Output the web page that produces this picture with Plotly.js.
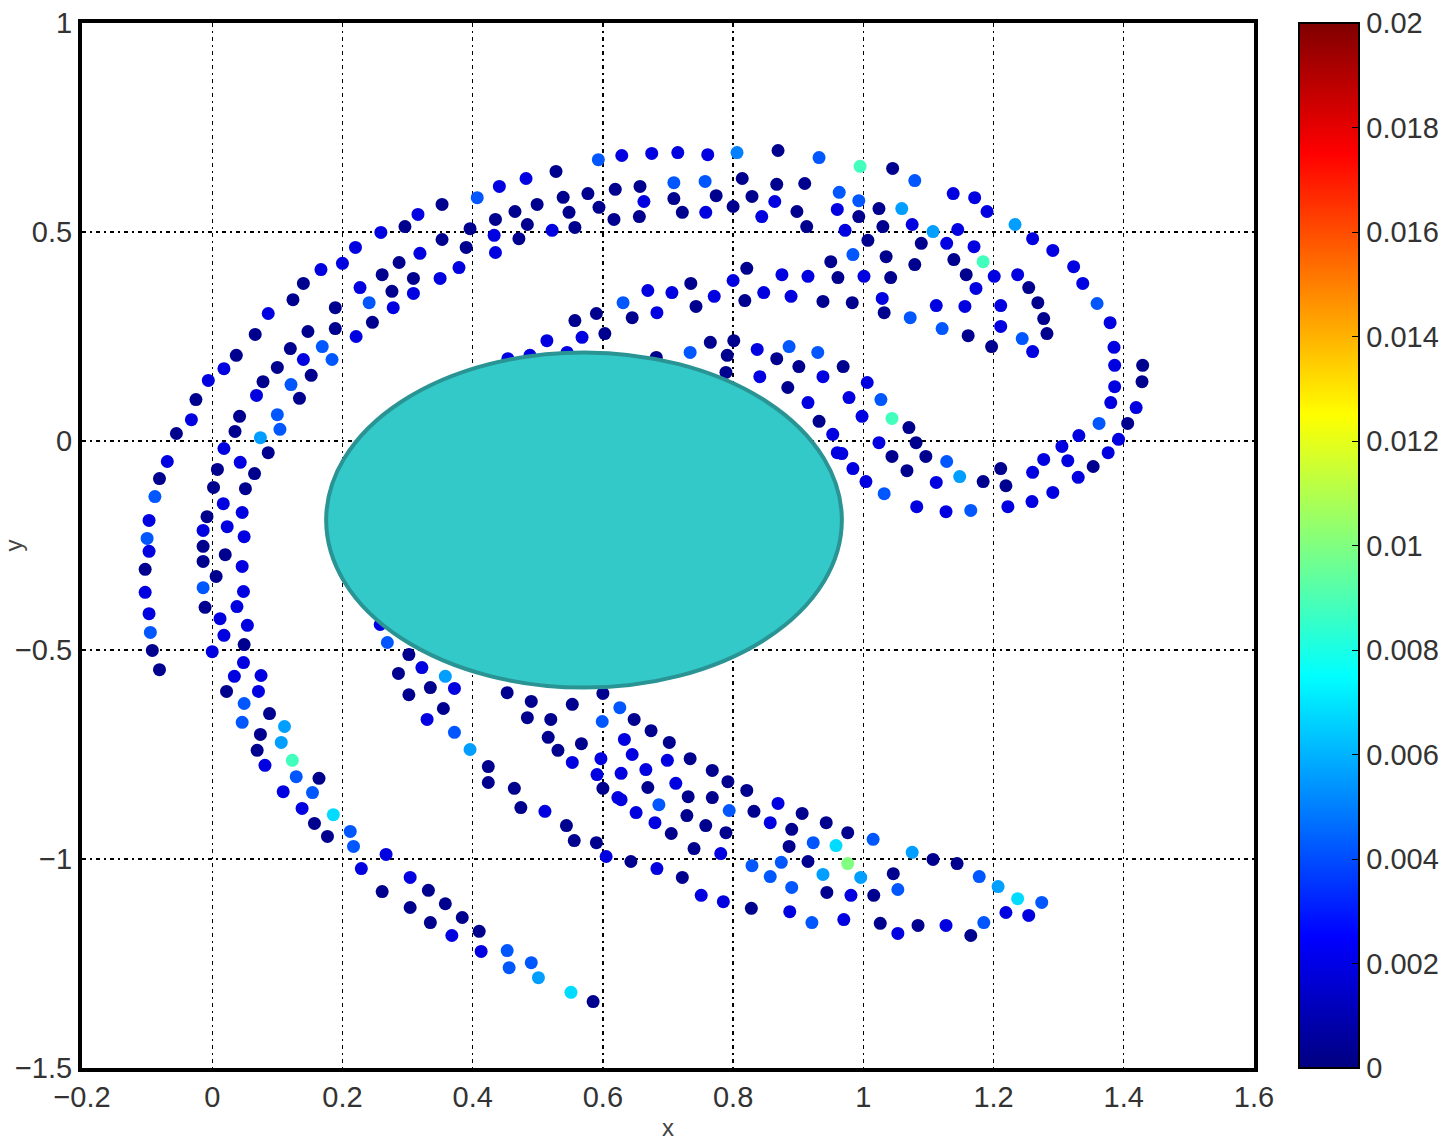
<!DOCTYPE html>
<html>
<head>
<meta charset="utf-8">
<script src="https://cdn.plot.ly/plotly-3.0.1.min.js"></script>
<style>html,body{margin:0;padding:0;background:#fff}#chart{width:1454px;height:1144px}</style>
</head>
<body>
<div id="chart"></div>
<script>
// ---- data ----
const outerTopX = [0.593,0.629,0.675,0.715,0.761,0.806,0.869,0.932,0.995,1.045,1.079,1.138,1.171,1.190,1.233,1.260,1.291,1.323,1.337,1.359,1.379,1.385,1.386,1.386,1.380,1.362,1.331,1.305,1.277,1.260];
const outerTopY = [0.673,0.683,0.688,0.690,0.685,0.690,0.695,0.678,0.657,0.652,0.623,0.592,0.582,0.549,0.518,0.484,0.456,0.417,0.377,0.329,0.283,0.224,0.181,0.130,0.092,0.042,0.013,-0.013,-0.044,-0.075];
const outerTopV = [0.0042,0.0019,0.0019,0.0019,0.0019,0.005,0.0003,0.0042,0.0088,0.0003,0.0042,0.0019,0.0019,0.0019,0.0056,0.0019,0.0019,0.0019,0.0019,0.0042,0.0019,0.0019,0.0019,0.0019,0.0019,0.0042,0.0019,0.0019,0.0019,0.0019];

const outerLeftX = [0.528,0.482,0.441,0.407,0.353,0.316,0.296,0.259,0.220,0.200,0.167,0.140,0.124,0.086,0.066,0.037,0.018,-0.006,-0.025,-0.032,-0.055,-0.069,-0.081,-0.088,-0.097,-0.100,-0.097,-0.103,-0.103,-0.097,-0.095,-0.092,-0.081];
const outerLeftY = [0.645,0.628,0.609,0.582,0.566,0.542,0.513,0.499,0.463,0.425,0.410,0.377,0.338,0.305,0.255,0.205,0.173,0.145,0.099,0.051,0.018,-0.049,-0.090,-0.133,-0.190,-0.233,-0.264,-0.307,-0.362,-0.413,-0.458,-0.501,-0.547];
const outerLeftV = [0.0003,0.0019,0.0019,0.0042,0.0003,0.0019,0.0003,0.0019,0.0019,0.0019,0.0019,0.0003,0.0003,0.0019,0.0003,0.0003,0.0019,0.0019,0.0003,0.0019,0.0003,0.0019,0.0003,0.0042,0.0019,0.0042,0.0019,0.0003,0.0019,0.0019,0.0042,0.0003,0.0003];

const rightInnerX = [1.429,1.428,1.419,1.406,1.392,1.376,1.353,1.330,1.314,1.291,1.259,1.222,1.211,1.219];
const rightInnerY = [0.181,0.142,0.080,0.042,0.004,-0.028,-0.061,-0.087,-0.047,-0.123,-0.145,-0.157,-0.066,-0.107];
const rightInnerV = [0.0003,0.0003,0.0019,0.0003,0.0019,0.0019,0.0003,0.0019,0.0019,0.0019,0.0019,0.0019,0.0003,0.0003];

const upperBandX = [0.619,0.657,0.709,0.757,0.814,0.867,0.910,0.963,0.993,1.024,1.059,1.075,1.107,1.145,1.170,1.184,
  0.577,0.539,0.499,0.465,0.435,0.396,
  0.663,0.709,0.774,0.829,0.864,
  0.594,0.548,0.484,0.471,0.433,0.435,0.522,0.557,0.617,0.656,0.722,0.758,0.800,0.844,0.898,0.960,0.913,0.972,
  0.993,1.030,1.007,1.089,1.128,
  0.984,1.035,1.079,1.139,1.001,1.042,1.158,1.201,1.237,1.173,1.254,1.029,1.112,1.156,1.211,1.268,1.032,1.072,1.277,1.121,1.211,1.161,1.244,1.282,1.197,1.260];
const upperBandY = [0.602,0.609,0.618,0.621,0.628,0.614,0.616,0.595,0.575,0.556,0.556,0.518,0.501,0.506,0.465,0.429,
  0.592,0.583,0.566,0.549,0.530,0.508,
  0.573,0.580,0.587,0.585,0.573,
  0.559,0.547,0.518,0.484,0.492,0.451,0.504,0.511,0.530,0.537,0.547,0.547,0.561,0.537,0.549,0.554,0.513,0.504,
  0.537,0.513,0.480,0.473,0.473,
  0.446,0.441,0.422,0.434,0.394,0.391,0.398,0.394,0.398,0.365,0.367,0.341,0.324,0.322,0.324,0.331,0.307,0.295,0.293,0.269,0.274,0.252,0.245,0.257,0.226,0.214];
const upperBandV = [0.0003,0.0003,0.0042,0.0042,0.0003,0.0003,0.0003,0.0042,0.0042,0.0003,0.0056,0.0019,0.0056,0.0019,0.0019,0.0088,
  0.0003,0.0003,0.0003,0.0003,0.0003,0.0003,
  0.0019,0.0003,0.0003,0.0003,0.0019,
  0.0003,0.0003,0.0003,0.0003,0.0019,0.0019,0.0019,0.0003,0.0003,0.0003,0.0003,0.0019,0.0003,0.0019,0.0003,0.0019,0.0003,0.0019,
  0.0003,0.0003,0.0003,0.0003,0.0019,
  0.0042,0.0003,0.0003,0.0003,0.0019,0.0003,0.0003,0.0019,0.0019,0.0019,0.0003,0.0019,0.0019,0.0019,0.0019,0.0003,0.0003,0.0042,0.0003,0.0042,0.0019,0.0003,0.0042,0.0003,0.0003,0.0019];

const upperLeftX = [0.353,0.390,0.319,0.287,0.379,0.350,0.261,0.309,0.227,0.276,0.309,0.241,0.189,0.278,0.246,0.147,0.189,0.221,0.169,0.120,0.140,0.184,0.100,0.152,0.078,0.121,0.068,0.134,0.042,0.100,0.104,0.035,0.074,0.018,0.086];
const upperLeftY = [0.482,0.463,0.449,0.427,0.415,0.389,0.398,0.389,0.367,0.358,0.353,0.331,0.319,0.319,0.284,0.262,0.269,0.250,0.226,0.221,0.195,0.195,0.176,0.157,0.142,0.135,0.109,0.102,0.059,0.063,0.028,0.023,0.008,-0.018,-0.028];
const upperLeftV = [0.0003,0.0003,0.0019,0.0003,0.0019,0.0019,0.0003,0.0003,0.0019,0.0003,0.0019,0.0042,0.0003,0.0019,0.0003,0.0003,0.0003,0.0019,0.0042,0.0003,0.0019,0.0042,0.0003,0.0003,0.0003,0.0042,0.0019,0.0003,0.0003,0.0042,0.0042,0.0003,0.0056,0.0019,0.0003];

const lowerLeftX = [0.008,0.002,-0.008,-0.014,-0.014,-0.014,-0.014,-0.011,0.000,
  0.043,0.065,0.051,0.017,0.046,0.023,0.049,0.020,0.046,0.006,0.048,0.038,0.012,0.054,0.018,0.049,0.048,0.034,0.075,0.022,0.071,0.049,0.088,0.046,0.111,0.074,0.106,0.069,0.123,0.081,0.129,0.164,0.109,0.154,0.138,0.186,0.157,0.212,0.177,0.217,0.267,0.229,0.304,0.261,0.332,0.358,0.304,0.384,0.335,0.410,0.368,0.413,0.453,0.490,0.456,0.501,0.551,0.585];
const lowerLeftY = [-0.068,-0.111,-0.181,-0.214,-0.252,-0.288,-0.351,-0.398,-0.504,
  -0.051,-0.078,-0.114,-0.150,-0.171,-0.205,-0.229,-0.272,-0.300,-0.324,-0.360,-0.396,-0.425,-0.441,-0.465,-0.487,-0.530,-0.563,-0.561,-0.599,-0.599,-0.628,-0.652,-0.673,-0.683,-0.702,-0.721,-0.740,-0.764,-0.776,-0.803,-0.807,-0.839,-0.841,-0.879,-0.894,-0.915,-0.934,-0.946,-0.970,-0.989,-1.023,-1.044,-1.078,-1.075,-1.107,-1.116,-1.140,-1.152,-1.173,-1.183,-1.221,-1.219,-1.248,-1.260,-1.284,-1.319,-1.341];
const lowerLeftV = [0.0003,0.0003,0.0003,0.0019,0.0003,0.0003,0.0042,0.0003,0.0019,
  0.0019,0.0003,0.0003,0.0019,0.0019,0.0019,0.0019,0.0003,0.0019,0.0003,0.0019,0.0019,0.0019,0.0019,0.0019,0.0003,0.0019,0.0019,0.0019,0.0003,0.0019,0.0042,0.0003,0.0042,0.0056,0.0003,0.0056,0.0003,0.0088,0.0019,0.0042,0.0003,0.0019,0.0042,0.0019,0.0068,0.0003,0.0042,0.0003,0.0042,0.0019,0.0019,0.0019,0.0003,0.0003,0.0003,0.0003,0.0003,0.0003,0.0003,0.0019,0.0019,0.0042,0.0042,0.0042,0.0056,0.0068,0.0003];

const lowerArmX = [0.258,0.269,0.302,0.322,0.286,0.358,0.335,0.372,0.302,0.355,0.330,0.372,0.396,0.424,0.424,0.464,0.474,0.511,0.544,0.556,0.590,0.605,0.643,0.683,0.722,0.751,0.785,0.828,0.887,0.921,0.970,1.026,1.053,1.084,1.127,1.165,1.185,1.219,1.254,1.274,1.237,1.207,1.178];
const lowerArmY = [-0.439,-0.482,-0.511,-0.542,-0.556,-0.563,-0.590,-0.592,-0.607,-0.640,-0.666,-0.697,-0.738,-0.779,-0.817,-0.831,-0.877,-0.886,-0.920,-0.956,-0.961,-0.994,-1.006,-1.023,-1.044,-1.087,-1.102,-1.118,-1.126,-1.152,-1.145,-1.154,-1.178,-1.159,-1.159,-1.183,-1.152,-1.128,-1.135,-1.104,-1.095,-1.066,-1.042];
const lowerArmV = [0.0019,0.0042,0.0003,0.0019,0.0003,0.0056,0.0003,0.0019,0.0003,0.0003,0.0019,0.0042,0.0056,0.0003,0.0003,0.0003,0.0003,0.0019,0.0003,0.0003,0.0003,0.0019,0.0003,0.0019,0.0003,0.0019,0.0019,0.0003,0.0019,0.0042,0.0019,0.0003,0.0019,0.0003,0.0019,0.0003,0.0042,0.0019,0.0019,0.0042,0.0068,0.0056,0.0042];

const lowerMidX = [0.453,0.490,0.553,0.600,0.484,0.520,0.599,0.516,0.567,0.531,0.553,0.597,0.591,0.600,0.623,
  0.626,0.648,0.674,0.633,0.702,0.645,0.699,0.734,0.666,0.768,0.628,0.792,0.669,0.712,0.821,0.731,0.768,0.628,0.686,0.794,0.832,0.869,0.651,0.729,0.680,0.758,0.906,0.857,0.943,0.789,0.890,0.705,0.976,1.015,0.923,0.958,0.740,0.886,0.781,1.075,0.874,0.915,0.976,0.829,1.107,1.144,0.857,0.938,0.996,1.046,0.890,1.053,0.944,0.981,1.016];
const lowerMidY = [-0.602,-0.623,-0.630,-0.604,-0.662,-0.666,-0.671,-0.709,-0.724,-0.740,-0.769,-0.760,-0.798,-0.831,-0.853,
  -0.638,-0.666,-0.693,-0.714,-0.721,-0.750,-0.764,-0.760,-0.786,-0.788,-0.795,-0.815,-0.829,-0.819,-0.836,-0.851,-0.853,-0.858,-0.870,-0.884,-0.886,-0.867,-0.889,-0.896,-0.913,-0.920,-0.891,-0.913,-0.913,-0.937,-0.929,-0.939,-0.937,-0.953,-0.961,-0.968,-0.975,-0.970,-0.987,-0.984,-1.008,-1.006,-1.011,-1.016,-1.001,-1.011,-1.042,-1.037,-1.044,-1.035,-1.068,-1.073,-1.080,-1.087,-1.087];
const lowerMidV = [0.0003,0.0003,0.0003,0.0003,0.0003,0.0003,0.0042,0.0003,0.0003,0.0003,0.0019,0.0019,0.0019,0.0003,0.0019,
  0.0042,0.0003,0.0003,0.0019,0.0003,0.0019,0.0019,0.0003,0.0019,0.0003,0.0019,0.0003,0.0003,0.0019,0.0003,0.0003,0.0003,0.0019,0.0042,0.0042,0.0003,0.0019,0.0019,0.0003,0.0019,0.0003,0.0003,0.0019,0.0003,0.0003,0.0003,0.0003,0.0003,0.0042,0.0042,0.0068,0.0003,0.0003,0.0019,0.0056,0.0042,0.0003,0.0100,0.0042,0.0003,0.0003,0.0042,0.0056,0.0056,0.0003,0.0042,0.0042,0.0003,0.0019,0.0003];

const innerLoopX = [0.950,0.821,0.875,0.915,0.961,0.735,0.800,0.669,0.706,0.771,0.847,0.889,0.818,0.938,0.983,0.631,0.743,0.683,0.645,0.590,0.557,0.603,0.568,0.514,0.488,0.454,0.545,0.682,0.734,0.765,0.801,0.791,0.837,0.886,0.930,0.867,0.901,0.969,0.789,0.841,0.938,0.884,0.915,0.932,0.953,0.960,
  1.006,1.027,0.978,0.998,1.044,1.070,1.024,1.081,0.967,1.044,1.096,0.984,1.067,1.128,1.004,1.112,1.148,1.184,1.032,1.082,1.127,1.165];
const innerLoopY = [0.429,0.413,0.398,0.394,0.391,0.377,0.384,0.360,0.355,0.346,0.355,0.346,0.336,0.334,0.331,0.331,0.322,0.307,0.295,0.305,0.288,0.257,0.248,0.240,0.205,0.197,0.212,0.200,0.212,0.236,0.240,0.205,0.219,0.226,0.212,0.197,0.178,0.178,0.164,0.154,0.154,0.128,0.092,0.047,0.016,-0.028,
  0.140,0.099,0.104,0.059,0.054,0.032,-0.004,-0.004,-0.030,-0.037,-0.037,-0.066,-0.071,-0.049,-0.097,-0.099,-0.085,-0.097,-0.126,-0.157,-0.169,-0.166];
const innerLoopV = [0.0003,0.0003,0.0019,0.0019,0.0003,0.0003,0.0019,0.0019,0.0019,0.0019,0.0019,0.0019,0.0003,0.0003,0.0003,0.0042,0.0003,0.0019,0.0003,0.0003,0.0003,0.0003,0.0019,0.0019,0.0019,0.0019,0.0019,0.0003,0.0042,0.0003,0.0003,0.0003,0.0019,0.0042,0.0042,0.0003,0.0003,0.0003,0.0003,0.0019,0.0019,0.0003,0.0019,0.0003,0.0019,0.0019,
  0.0019,0.0042,0.0019,0.0019,0.0088,0.0003,0.0019,0.0003,0.0019,0.0003,0.0003,0.0019,0.0003,0.0042,0.0019,0.0019,0.0056,0.0003,0.0042,0.0019,0.0019,0.0042];

const xTickVals = [-0.2,0,0.2,0.4,0.6,0.8,1,1.2,1.4,1.6];
const xTickText = ['\u22120.2','0','0.2','0.4','0.6','0.8','1','1.2','1.4','1.6'];
const yTickVals = [-1.5,-1,-0.5,0,0.5,1];
const yTickText = ['\u22121.5','\u22121','\u22120.5','0','0.5','1'];
const cbTickVals = [0,0.002,0.004,0.006,0.008,0.01,0.012,0.014,0.016,0.018,0.02];
const cbTickText = ['0','0.002','0.004','0.006','0.008','0.01','0.012','0.014','0.016','0.018','0.02'];

// obstacle ellipse (data coordinates)
const ellipseX = [0.175, 0.967];
const ellipseY = [-0.590, 0.212];

// ---- build ----
const groupsX = [outerTopX, outerLeftX, rightInnerX, upperBandX, upperLeftX, lowerLeftX, lowerArmX, lowerMidX, innerLoopX];
const groupsY = [outerTopY, outerLeftY, rightInnerY, upperBandY, upperLeftY, lowerLeftY, lowerArmY, lowerMidY, innerLoopY];
const groupsV = [outerTopV, outerLeftV, rightInnerV, upperBandV, upperLeftV, lowerLeftV, lowerArmV, lowerMidV, innerLoopV];
const X = [].concat(...groupsX), Y = [].concat(...groupsY), V = [].concat(...groupsV);

const jet = [[0,'rgb(0,0,128)'],[0.125,'rgb(0,0,255)'],[0.375,'rgb(0,255,255)'],[0.625,'rgb(255,255,0)'],[0.875,'rgb(255,0,0)'],[1,'rgb(128,0,0)']];
const FAM = 'Liberation Sans, Arial, Helvetica, sans-serif';

const trace = {
  type:'scatter', mode:'markers', x:X, y:Y,
  marker:{size:13, color:V, colorscale:jet, cmin:0, cmax:0.02, line:{width:0},
    colorbar:{
      x:1.0384, xanchor:'left', xpad:0, y:1, yanchor:'top', ypad:0,
      len:1045, lenmode:'pixels', thickness:60, thicknessmode:'pixels',
      outlinewidth:2, outlinecolor:'#000',
      tickvals:cbTickVals, ticktext:cbTickText, ticks:'inside', ticklen:8, tickcolor:'#000', tickwidth:1,
      tickfont:{family:FAM, size:29, color:'#333'}
    }},
  hoverinfo:'skip', showlegend:false
};

const axisFont = {family:FAM, size:29, color:'#333'};
const layout = {
  width:1454, height:1144,
  margin:{l:82, r:200, t:23, b:76, autoexpand:false},
  paper_bgcolor:'#fff', plot_bgcolor:'#fff',
  font:axisFont,
  showlegend:false,
  xaxis:{range:[-0.2,1.6], tickvals:xTickVals, ticktext:xTickText, tickfont:axisFont,
    showgrid:true, gridcolor:'#000', gridwidth:1.3, griddash:'4px,4px,2px,4px',
    zeroline:false, showline:true, linecolor:'#000', linewidth:4, mirror:true, ticks:'',
    title:{text:'x', font:{family:FAM, size:24, color:'#444'}, standoff:8},
    automargin:false, fixedrange:true},
  yaxis:{range:[-1.5,1], tickvals:yTickVals, ticktext:yTickText, tickfont:axisFont,
    showgrid:true, gridcolor:'#000', gridwidth:1.3, griddash:'4px,4px,2px,4px',
    zeroline:false, showline:true, linecolor:'#000', linewidth:4, mirror:true, ticks:'',
    title:{text:'y', font:{family:FAM, size:24, color:'#444'}, standoff:26},
    automargin:false, fixedrange:true},
  shapes:[{type:'circle', xref:'x', yref:'y', x0:ellipseX[0], x1:ellipseX[1], y0:ellipseY[0], y1:ellipseY[1],
    fillcolor:'#33C9C9', line:{color:'#2A9494', width:4}, layer:'above'}]
};

Plotly.newPlot('chart', [trace], layout, {displayModeBar:false, staticPlot:true});
</script>
</body>
</html>
